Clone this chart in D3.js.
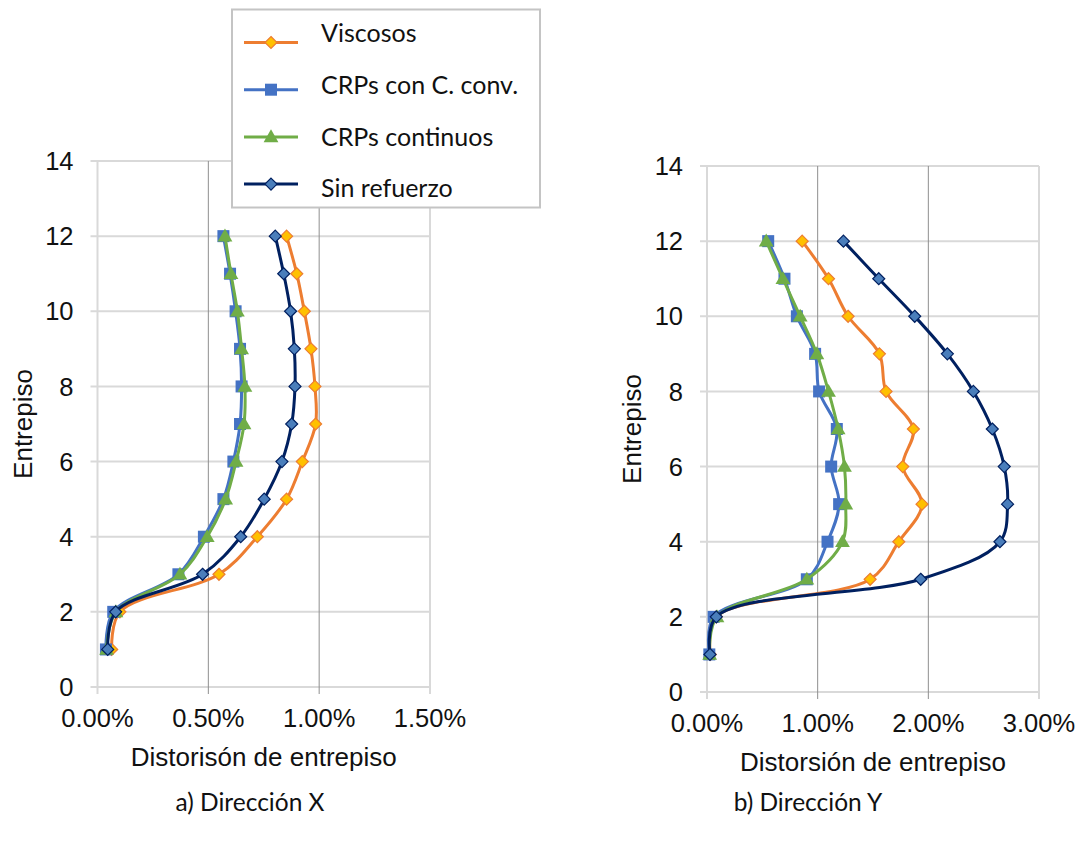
<!DOCTYPE html>
<html lang="es">
<head>
<meta charset="UTF-8">
<title>Distorsion de entrepiso</title>
<style>
  body { margin: 0; background: #fff; }
  text { font-family: "Liberation Sans", Arial, sans-serif; }
  .cal { font-family: Lato, "Open Sans", sans-serif; }
</style>
</head>
<body>
<script src="https://d3js.org/d3.v7.min.js"></script>
<script>
// floors (entrepiso)
var floors = [1, 2, 3, 4, 5, 6, 7, 8, 9, 10, 11, 12];
var seriesNames = ["Viscosos", "CRPs con C. conv.", "CRPs continuos", "Sin refuerzo"];

// a) Direccion X, drift in %
var xViscosos   = [0.064, 0.101, 0.548, 0.721, 0.853, 0.924, 0.984, 0.981, 0.963, 0.933, 0.899, 0.853];
var xCrpConv    = [0.038, 0.071, 0.365, 0.480, 0.568, 0.613, 0.643, 0.650, 0.643, 0.623, 0.598, 0.568];
var xCrpCont    = [0.041, 0.083, 0.372, 0.495, 0.578, 0.625, 0.661, 0.665, 0.650, 0.631, 0.602, 0.575];
var xSinRef     = [0.046, 0.082, 0.474, 0.646, 0.752, 0.832, 0.876, 0.891, 0.888, 0.871, 0.840, 0.802];

// b) Direccion Y, drift in %
var yViscosos   = [0.030, 0.084, 1.474, 1.733, 1.943, 1.769, 1.865, 1.618, 1.558, 1.275, 1.098, 0.860];
var yCrpConv    = [0.021, 0.060, 0.902, 1.089, 1.194, 1.122, 1.173, 1.013, 0.977, 0.812, 0.700, 0.553];
var yCrpCont    = [0.024, 0.090, 0.902, 1.224, 1.254, 1.242, 1.185, 1.098, 0.993, 0.842, 0.686, 0.535];
var ySinRef     = [0.027, 0.084, 1.931, 2.647, 2.716, 2.686, 2.578, 2.407, 2.172, 1.877, 1.552, 1.233];

var xTicksA = [0, 0.5, 1.0, 1.5];
var xTicksB = [0, 1.0, 2.0, 3.0];
var yTicks = [0, 2, 4, 6, 8, 10, 12, 14];

var styles = [
  {line: "#ED7D31", fill: "#FFC000", stroke: "#ED7D31", shape: "diamond"},
  {line: "#4472C4", fill: "#4472C4", stroke: "#4472C4", shape: "square"},
  {line: "#70AD47", fill: "#70AD47", stroke: "#70AD47", shape: "triangle"},
  {line: "#002060", fill: "#4A7EBB", stroke: "#002060", shape: "diamond"}
];

var svg = d3.select("body").append("svg")
  .attr("width", 1078).attr("height", 842);
svg.append("rect").attr("width", 1078).attr("height", 842).attr("fill", "#fff");

function marker(g, st, cx, cy) {
  if (st.shape == "diamond") {
    g.append("path")
      .attr("d", "M0,-6L6,0L0,6L-6,0Z")
      .attr("transform", "translate(" + cx + "," + cy + ")")
      .attr("fill", st.fill).attr("stroke", st.stroke).attr("stroke-width", 1.2);
  } else if (st.shape == "square") {
    g.append("rect").attr("x", cx - 6).attr("y", cy - 6)
      .attr("width", 12).attr("height", 12).attr("fill", st.fill);
  } else {
    g.append("path")
      .attr("d", d3.symbol().type(d3.symbolTriangle).size(95)())
      .attr("transform", "translate(" + cx + "," + (cy + 1) + ")")
      .attr("fill", st.fill);
  }
}

function drawChart(opt) {
  var x = d3.scaleLinear().domain(opt.xdom).range([opt.left, opt.right]);
  var y = d3.scaleLinear().domain([0, 14]).range([opt.bottom, opt.top]);
  var g = svg.append("g");

  // horizontal gridlines
  g.selectAll(".hg").data(yTicks).enter().append("line")
    .attr("x1", opt.left - 7).attr("x2", opt.right)
    .attr("y1", d => y(d)).attr("y2", d => y(d))
    .attr("stroke", "#d9d9d9").attr("stroke-width", 2);
  // vertical gridlines
  g.selectAll(".vg").data(opt.xticks).enter().append("line")
    .attr("x1", d => x(d)).attr("x2", d => x(d))
    .attr("y1", opt.top).attr("y2", opt.bottom + 7)
    .attr("stroke", (d, i) => (i == 0 || i == opt.xticks.length - 1) ? "#d9d9d9" : "#8f8f8f")
    .attr("stroke-width", (d, i) => (i == 0 || i == opt.xticks.length - 1) ? 2 : 1);

  // tick labels
  g.selectAll(".yl").data(yTicks).enter().append("text")
    .attr("x", opt.left - 24).attr("y", d => y(d))
    .attr("dy", "0.36em").attr("text-anchor", "end")
    .attr("font-size", 25.5).attr("fill", "#111")
    .text(d => d);
  g.selectAll(".xl").data(opt.xticks).enter().append("text")
    .attr("x", d => x(d)).attr("y", opt.bottom + 31)
    .attr("dy", "0.36em").attr("text-anchor", "middle")
    .attr("font-size", 25.5).attr("fill", "#111")
    .text(d => d3.format(".2f")(d) + "%");

  // axis titles
  g.append("text")
    .attr("x", (opt.left + opt.right) / 2).attr("y", opt.bottom + 70)
    .attr("dy", "0.36em").attr("text-anchor", "middle")
    .attr("font-size", 26).attr("fill", "#111")
    .text(opt.xtitle);
  g.append("text")
    .attr("transform", "translate(" + opt.ytx + "," + ((opt.top + opt.bottom) / 2) + ") rotate(-90)")
    .attr("dy", "0.36em").attr("text-anchor", "middle")
    .attr("font-size", 26).attr("fill", "#111")
    .text("Entrepiso");

  var line = d3.line()
    .x(d => x(d[0])).y(d => y(d[1]))
    .curve(d3.curveCatmullRom.alpha(0.5));

  opt.series.forEach(function (vals, i) {
    var pts = vals.map((v, k) => [v, floors[k]]);
    var st = styles[i];
    g.append("path").datum(pts)
      .attr("d", line).attr("fill", "none")
      .attr("stroke", st.line).attr("stroke-width", 3)
      .attr("stroke-linejoin", "round");
    var mg = g.append("g");
    pts.forEach(p => marker(mg, st, x(p[0]), y(p[1])));
  });

  // caption
  svg.append("text").attr("class", "cal")
    .attr("x", opt.capx).attr("y", 802).attr("dy", "0.36em")
    .attr("text-anchor", "middle").attr("font-size", 24.5).attr("fill", "#111")
    .text(opt.caption);
}

drawChart({
  left: 97.5, right: 430, top: 161, bottom: 687,
  xdom: [0, 1.5], xticks: xTicksA, ytx: 23,
  xtitle: "Distorisón de entrepiso", caption: "a) Dirección X", capx: 250,
  series: [xViscosos, xCrpConv, xCrpCont, xSinRef]
});
drawChart({
  left: 707, right: 1039, top: 166, bottom: 692,
  xdom: [0, 3], xticks: xTicksB, ytx: 632,
  xtitle: "Distorsión de entrepiso", caption: "b) Dirección Y", capx: 808,
  series: [yViscosos, yCrpConv, yCrpCont, ySinRef]
});

// legend
var lg = svg.append("g");
lg.append("rect").attr("x", 232).attr("y", 9.5).attr("width", 308).attr("height", 198)
  .attr("fill", "#fff").attr("stroke", "#c4c4c4").attr("stroke-width", 2);
seriesNames.forEach(function (name, i) {
  var my = 42.5 + i * 47.2;
  var ty = 33 + i * 51.8;
  lg.append("line").attr("x1", 244).attr("x2", 298).attr("y1", my).attr("y2", my)
    .attr("stroke", styles[i].line).attr("stroke-width", 3);
  marker(lg, styles[i], 271, my);
  lg.append("text").attr("class", "cal")
    .attr("x", 321).attr("y", ty).attr("dy", "0.36em")
    .attr("font-size", 25).attr("fill", "#111")
    .text(name);
});
</script>
</body>
</html>
